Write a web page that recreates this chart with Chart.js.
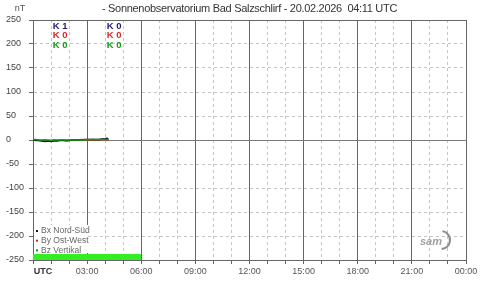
<!DOCTYPE html>
<html>
<head>
<meta charset="utf-8">
<script src="https://cdn.jsdelivr.net/npm/chart.js@4"></script>
<style>
  html, body { margin: 0; padding: 0; background: #fff; }
  #wrap { width: 480px; height: 281px; }
</style>
</head>
<body>
<div id="wrap"><canvas id="mag" width="480" height="281"></canvas></div>
<script>
// Magnetometer readings (nT) for the day so far, hours UTC
const HOURS = [0, 0.17, 0.33, 0.5, 0.67, 0.83, 1.0, 1.17, 1.33, 1.5, 1.67, 1.83, 2.0, 2.17,
  2.33, 2.5, 2.67, 2.83, 3.0, 3.17, 3.33, 3.5, 3.67, 3.83, 4.0, 4.1, 4.18];
const BX = [0, -1, -1, -2, -3, -2, -3, -2, -2, -1, -1, -1, -1, 0, 0, 0, 0, 1, 1, 1, 1, 1, 1, 2, 2, 4, 1];
const BY = [0, 0, -1, -1, 0, -1, -1, 0, -1, 0, 0, -2, -1, 0, 0, 0, 1, 0, 0, 0, 1, 0, 0, 1, 1, 0, 0];
const BZ = [1, 1, 0, 0, 0, 0, -1, 0, 0, 0, 0, 0, 0, 0, 0, 0, 0, 0, 1, 1, 1, 1, 1, 1, 1, 1, 1];

// data coverage strip at the bottom
const COVER_HOURS = [0, 6];
const COVER_LEVEL = -237.5;

// K indices, one column per 3h block
const K_HOURS = [1.5, 4.5];
const K_BX = [1, 0];
const K_BY = [0, 0];
const K_BZ = [0, 0];

const SERIES_NAMES = ['Bx Nord-Süd', 'By Ost-West', 'Bz Vertikal'];
const X_TICK_LABELS = ['UTC', '03:00', '06:00', '09:00', '12:00', '15:00', '18:00', '21:00', '00:00'];

const TITLE = '- Sonnenobservatorium Bad Salzschlirf - 20.02.2026  04:11 UTC';

const COLORS = {
  bx: '#101030',
  by: '#e02424',
  bz: '#139a13',
  kx: '#1c1c78',
  cover: '#33ee22',
  major: '#666666',
  minor: '#c4c4c4',
  zero: '#7a7a7a',
};

const FONT = '"Liberation Sans", Arial, sans-serif';

function pts(ys) {
  return HOURS.map((h, i) => ({ x: h, y: ys[i] }));
}

const overlayPlugin = {
  id: 'overlay',
  afterDraw(chart) {
    const c = chart.ctx;
    const xs = chart.scales.x;
    const area = chart.chartArea;
    c.save();

    // title + unit
    c.fillStyle = '#333';
    c.font = '11px ' + FONT;
    c.letterSpacing = '-0.3px';
    c.textAlign = 'center';
    c.textBaseline = 'middle';
    c.fillText(TITLE, (area.left + area.right) / 2, 9);
    c.letterSpacing = '0px';
    c.font = '9px ' + FONT;
    c.fillStyle = '#555';
    c.fillText('nT', 20, 9);

    // K indices
    c.font = 'bold 9.5px ' + FONT;
    const rows = [[K_BX, COLORS.kx], [K_BY, COLORS.by], [K_BZ, COLORS.bz]];
    K_HOURS.forEach((h, i) => {
      const px = xs.getPixelForValue(h);
      rows.forEach((r, j) => {
        c.fillStyle = r[1];
        c.fillText('K ' + r[0][i], px, 26 + j * 9.5);
      });
    });

    // legend box
    c.fillStyle = '#fff';
    c.fillRect(area.left + 1, 225, 54, 28);
    const lc = [COLORS.bx, COLORS.by, COLORS.bz];
    c.font = '8.5px ' + FONT;
    c.textAlign = 'left';
    SERIES_NAMES.forEach((name, i) => {
      const y = 231 + i * 9.7;
      c.fillStyle = lc[i];
      c.fillRect(area.left + 3, y - 1, 2, 2);
      c.fillStyle = '#666';
      c.fillText(name, area.left + 8, y);
    });

    // SAM logo
    c.fillStyle = '#a0a0a0';
    c.font = 'italic bold 11px ' + FONT;
    c.textAlign = 'center';
    c.fillText('sam', 431, 242);
    c.strokeStyle = '#8a8a8a';
    c.lineWidth = 2;
    c.beginPath();
    c.arc(441, 240, 9, -1.4, 1.5);
    c.stroke();
    c.restore();
  },
};

const ctx = document.getElementById('mag').getContext('2d');
new Chart(ctx, {
  type: 'line',
  data: {
    datasets: [
      {
        label: 'cover',
        data: COVER_HOURS.map((h) => ({ x: h, y: COVER_LEVEL })),
        borderWidth: 0,
        pointRadius: 0,
        backgroundColor: COLORS.cover,
        fill: 'start',
        order: 5,
      },
      {
        label: SERIES_NAMES[1],
        data: pts(BY),
        borderColor: COLORS.by,
        borderWidth: 1.5,
        pointRadius: 0,
        order: 4,
      },
      {
        label: SERIES_NAMES[0],
        data: pts(BX),
        borderColor: COLORS.bx,
        borderWidth: 1.5,
        pointRadius: 0,
        order: 3,
      },
      {
        label: SERIES_NAMES[2],
        data: pts(BZ),
        borderColor: COLORS.bz,
        borderWidth: 1.5,
        pointRadius: 0,
        order: 2,
      },
    ],
  },
  options: {
    responsive: false,
    animation: false,
    layout: { padding: { top: 20, right: 14, left: 6, bottom: 0 } },
    plugins: {
      legend: { display: false },
      tooltip: { enabled: false },
    },
    scales: {
      x: {
        type: 'linear',
        min: 0,
        max: 24,
        afterFit: (s) => { s.height = 21; },
        ticks: {
          stepSize: 1,
          autoSkip: false,
          maxRotation: 0,
          padding: 2,
          color: (c) => (c.tick && c.tick.value === 0 ? '#333' : '#555'),
          font: (c) => ({
            family: FONT,
            size: 9,
            weight: c.tick && c.tick.value === 0 ? 'bold' : 'normal',
          }),
          callback: (v) => {
            if (v % 3 !== 0) return '';
            return v === 0 ? '        ' + X_TICK_LABELS[0] : X_TICK_LABELS[v / 3];
          },
        },
        grid: {
          color: (c) => (c.tick && c.tick.value % 3 === 0 ? COLORS.major : COLORS.minor),
          tickColor: COLORS.major,
          tickLength: 4,
          tickBorderDash: [],
        },
        border: {
          color: COLORS.major,
          dash: (c) => (c.tick && c.tick.value % 3 !== 0 ? [3, 3] : []),
        },
      },
      y: {
        min: -250,
        max: 250,
        afterFit: (s) => { s.width = 27; },
        ticks: {
          stepSize: 50,
          crossAlign: 'far',
          color: '#444',
          font: { family: FONT, size: 9 },
        },
        grid: {
          color: (c) => {
            if (!c.tick) return COLORS.minor;
            if (c.tick.value === 0) return COLORS.zero;
            if (Math.abs(c.tick.value) === 250) return COLORS.major;
            return COLORS.minor;
          },
          tickColor: COLORS.major,
          tickLength: 4,
          tickBorderDash: [],
        },
        border: {
          color: COLORS.major,
          dash: (c) => (c.tick && c.tick.value !== 0 && Math.abs(c.tick.value) !== 250 ? [3, 3] : []),
        },
      },
    },
  },
  plugins: [overlayPlugin],
});
</script>
</body>
</html>
